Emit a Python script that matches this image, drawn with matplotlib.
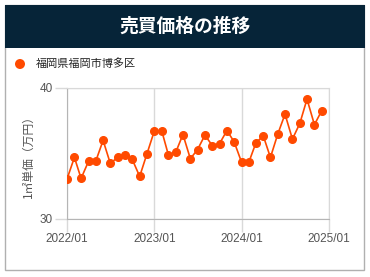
import matplotlib.pyplot as plt
import matplotlib.dates as mdates
import matplotlib.patches as mpatches
import pandas as pd

# monthly average price per m2 (10k yen), 2022/01 - 2024/12
months = pd.date_range("2022-01-01", periods=36, freq="MS")
prices = [33.05, 34.7, 33.1, 34.4, 34.4, 36.0, 34.25, 34.7, 34.9, 34.55, 33.25, 34.95,
          36.7, 36.75, 34.9, 35.1, 36.45, 34.6, 35.3, 36.4, 35.6, 35.75, 36.75, 35.9,
          34.35, 34.35, 35.8, 36.35, 34.7, 36.5, 38.0, 36.1, 37.3, 39.15, 37.2, 38.25]
area = "福岡県福岡市博多区"
title = "売買価格の推移"
ylabel = "1㎡単価（万円）"
yticks = [30, 40]
xticks = pd.to_datetime(["2022-01-01", "2023-01-01", "2024-01-01", "2025-01-01"])

plt.rcParams['font.family'] = ['Liberation Sans', 'Noto Sans CJK JP', 'DejaVu Sans']
jp = ['Noto Sans CJK JP', 'DejaVu Sans']
line_color = '#ff4a00'
grid_color = '#d9d9d9'
text_color = '#555555'

fig = plt.figure(figsize=(3.7, 2.77), dpi=100)

# card border and header
fig.patches.append(mpatches.Rectangle((5 / 370, 1 - 270 / 277), 359 / 370, 265 / 277,
                                      transform=fig.transFigure, facecolor='white',
                                      edgecolor='#b0b0b0', linewidth=1, zorder=-5))
fig.patches.append(mpatches.Rectangle((5 / 370, 1 - 48 / 277), 360 / 370, 43 / 277,
                                      transform=fig.transFigure, facecolor='#062438',
                                      edgecolor='none', zorder=-4))
fig.text(185 / 370, 1 - 26 / 277, title, color='white', fontsize=13.5, fontweight='bold',
         ha='center', va='center', family=jp)

# legend
fig.patches.append(mpatches.Ellipse((20 / 370, 1 - 64 / 277), 10 / 370, 10 / 277,
                                    transform=fig.transFigure, facecolor=line_color,
                                    edgecolor='none'))
fig.text(36 / 370, 1 - 64 / 277, area, fontsize=8, ha='left', va='center', color='#222222', family=jp)

ax = fig.add_axes([67 / 370, 1 - 219 / 277, 262 / 370, 131 / 277])
ax.patch.set_alpha(0)
ax.plot(months, prices, color=line_color, linewidth=1.2, marker='o', markersize=5.5, zorder=3)

ax.set_ylim(30, 40)
ax.set_yticks(yticks)
ax.set_xlim(xticks[0], xticks[-1])
ax.set_xticks(xticks)
ax.xaxis.set_major_formatter(mdates.DateFormatter('%Y/%m'))
ax.grid(True, color=grid_color, linewidth=1)
ax.tick_params(axis='both', colors=grid_color, labelcolor=text_color, labelsize=8.5,
               length=9, width=1, pad=1)
for name in ['top', 'right']:
    ax.spines[name].set_color(grid_color)
for name in ['left', 'bottom']:
    ax.spines[name].set_color('#b5b5b5')
ax.set_ylabel(ylabel, fontsize=8.5, color=text_color, family=jp, labelpad=4)

fig.savefig("out.png", dpi=100)
